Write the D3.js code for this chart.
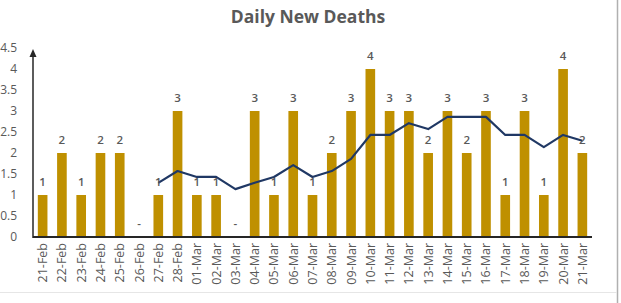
<!DOCTYPE html>
<html>
<head>
<meta charset="utf-8">
<script src="https://cdn.jsdelivr.net/npm/d3@7"></script>
<style>
  body { margin: 0; background: #fff; }
  text { font-family: "Open Sans", sans-serif; }
</style>
</head>
<body>
<script>
const width = 621;
const height = 303;

// data
const days = ["21-Feb","22-Feb","23-Feb","24-Feb","25-Feb","26-Feb","27-Feb","28-Feb",
    "01-Mar","02-Mar","03-Mar","04-Mar","05-Mar","06-Mar","07-Mar","08-Mar","09-Mar",
    "10-Mar","11-Mar","12-Mar","13-Mar","14-Mar","15-Mar","16-Mar","17-Mar","18-Mar",
    "19-Mar","20-Mar","21-Mar"];
const deaths = [1,2,1,2,2,0,1,3,1,1,0,3,1,3,1,2,3,4,3,3,2,3,2,3,1,3,1,4,2];
// moving average line, starts at 27-Feb
const avgDays = days.slice(6);
const avgValues = [1.29,1.57,1.43,1.43,1.14,1.29,1.43,1.71,1.43,1.57,1.86,2.43,2.43,
    2.71,2.57,2.86,2.86,2.86,2.43,2.43,2.14,2.43,2.29];
const yTicks = [0,0.5,1,1.5,2,2.5,3,3.5,4,4.5];

const svg = d3.select("body")
    .append("svg")
    .attr("width", width)
    .attr("height", height);

// frame edges like the screenshot
svg.append("line")
    .attr("x1", 617.5).attr("x2", 617.5)
    .attr("y1", 0).attr("y2", height)
    .attr("stroke", "#b0b0b0").attr("stroke-width", 1.5);
svg.append("line")
    .attr("x1", 0).attr("x2", 617)
    .attr("y1", 292.5).attr("y2", 292.5)
    .attr("stroke", "#e6e6e6");

svg.append("text")
    .attr("x", 308)
    .attr("y", 23)
    .attr("text-anchor", "middle")
    .style("font-size", "17.5px")
    .style("font-weight", "bold")
    .attr("fill", "#595959")
    .text("Daily New Deaths");

let x = d3.scaleBand()
    .domain(days)
    .range([33, 592])
    .paddingInner(0.5)
    .paddingOuter(0.25);

let y = d3.scaleLinear()
    .domain([0, 4.5])
    .range([237, 48]);

// y tick labels (no tick marks)
svg.append("g")
    .selectAll("text")
    .data(yTicks)
    .enter()
    .append("text")
    .attr("x", 17)
    .attr("y", d => y(d))
    .attr("dy", "0.35em")
    .attr("text-anchor", "end")
    .attr("fill", "#595959")
    .style("font-size", "12px")
    .text(d => d);

// bars
svg.append("g")
    .selectAll("rect")
    .data(deaths)
    .enter()
    .append("rect")
    .attr("x", (d, i) => x(days[i]))
    .attr("y", d => y(d))
    .attr("width", x.bandwidth())
    .attr("height", d => y(0) - y(d))
    .attr("fill", "#BF9000");

// axes
svg.append("line")
    .attr("x1", 33).attr("x2", 592)
    .attr("y1", y(0)).attr("y2", y(0))
    .attr("stroke", "#262626").attr("stroke-width", 2);
svg.append("line")
    .attr("x1", 33).attr("x2", 33)
    .attr("y1", y(0) + 1).attr("y2", 54)
    .attr("stroke", "#262626").attr("stroke-width", 1.5);
svg.append("path")
    .attr("d", "M33,49 L29.5,57 L36.5,57 Z")
    .attr("fill", "#262626");

// moving average
let line = d3.line()
    .x((d, i) => x(avgDays[i]) + x.bandwidth() / 2)
    .y(d => y(d));

svg.append("path")
    .datum(avgValues)
    .attr("d", line)
    .attr("fill", "none")
    .attr("stroke", "#203864")
    .attr("stroke-width", 2.2)
    .attr("stroke-linejoin", "round");

// bar value labels
svg.append("g")
    .selectAll("text")
    .data(deaths)
    .enter()
    .append("text")
    .attr("x", (d, i) => x(days[i]) + x.bandwidth() / 2)
    .attr("y", d => y(d) - 9)
    .attr("text-anchor", "middle")
    .attr("fill", "#595959")
    .style("font-size", "11.5px")
    .style("font-weight", "600")
    .text(d => d === 0 ? "-" : d);

// x labels, rotated
svg.append("g")
    .selectAll("text")
    .data(days)
    .enter()
    .append("text")
    .attr("transform", d => "translate(" + (x(d) + x.bandwidth() / 2 + 4.5) + ",243) rotate(-90)")
    .attr("text-anchor", "end")
    .attr("fill", "#595959")
    .style("font-size", "12.5px")
    .text(d => d);
</script>
</body>
</html>
